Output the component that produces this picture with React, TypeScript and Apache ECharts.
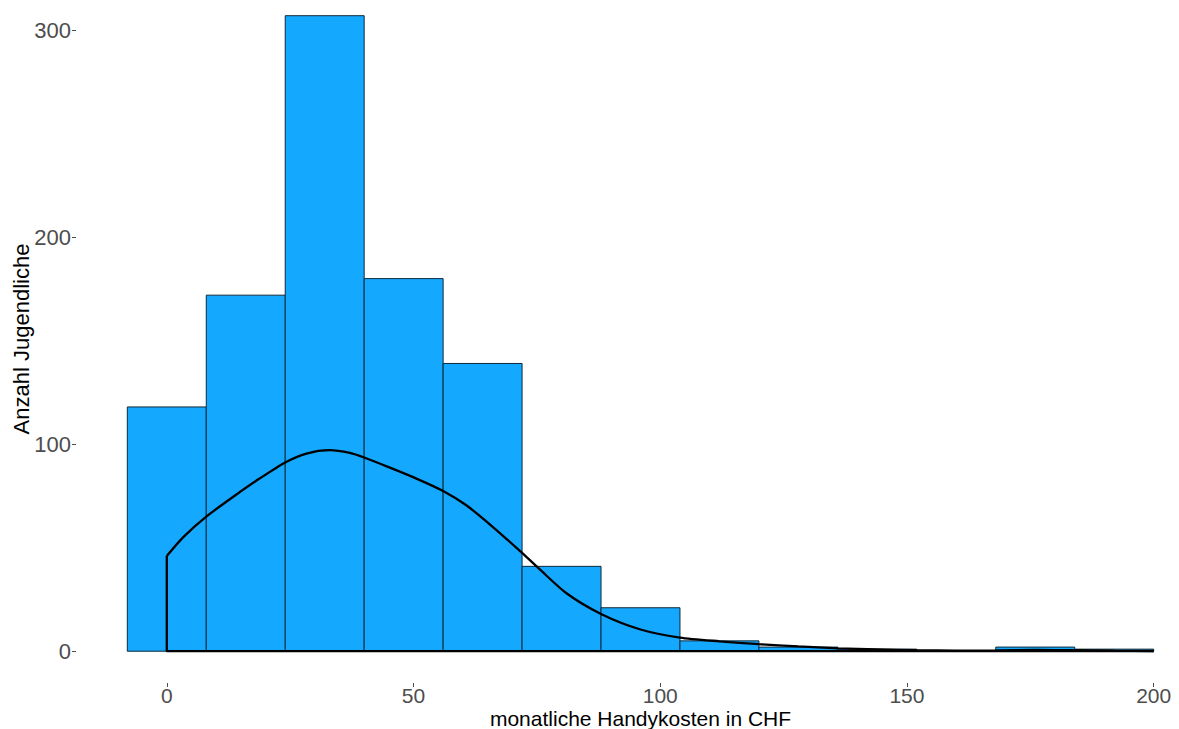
import React, { useEffect, useRef } from "react";
import * as echarts from "echarts";

// Histogram bins (left edge, right edge) and counts
const binStarts = [-8, 8, 24, 40, 56, 72, 88, 104, 120, 136, 152, 168, 184];
const binWidth = 16;
const counts = [118, 172, 307, 180, 139, 41, 21, 5, 2, 1, 0, 2, 1];

// Density curve (scaled to counts)
const densX = [0, 3.3, 8, 13.4, 18.8, 24, 28.3, 33, 37.1, 40, 45.2, 50.6, 56, 60.7, 66.1, 72, 75.6, 81, 88, 96, 104, 112, 120, 128, 136, 144, 152, 160, 168, 176, 184, 192, 200];
const densY = [46, 55, 65, 74.5, 83.4, 91.2, 95.5, 97.1, 95.8, 93.6, 88.7, 83.4, 77.4, 70.5, 60, 47.5, 39.5, 28, 18, 10.5, 6.6, 4.8, 3.4, 2.3, 1.4, 0.9, 0.5, 0.3, 0.4, 0.6, 0.5, 0.3, 0.1];

const xTicks = [0, 50, 100, 150, 200];
const yTicks = [0, 100, 200, 300];

const xTitle = "monatliche Handykosten in CHF";
const yTitle = "Anzahl Jugendliche";

export default function App() {
  const ref = useRef<HTMLDivElement>(null);
  useEffect(() => {
    if (!ref.current) return;
    const chart = echarts.init(ref.current, undefined, { renderer: "svg" });
    const histData = binStarts.map((s, i) => [s, s + binWidth, counts[i]]);
    const curve = densX.map((x, i) => [x, densY[i]]);
    const outline = [
      [densX[0], densY[0]],
      [densX[0], 0],
      [densX[densX.length - 1], 0],
      [densX[densX.length - 1], densY[densY.length - 1]],
    ];
    const font = "'Liberation Sans', Arial, Helvetica, sans-serif";
    chart.setOption({
      animation: false,
      backgroundColor: "#ffffff",
      grid: { left: 76, right: -26, top: -5, bottom: 46, containLabel: false, outerBoundsMode: "none" },
      xAxis: {
        type: "value",
        min: -18.4,
        max: 210.4,
        name: xTitle,
        nameLocation: "middle",
        nameGap: 24,
        nameMoveOverlap: false,
        nameTextStyle: { color: "#000", fontSize: 21, lineHeight: 22, fontFamily: font },
        axisLine: { show: false, onZero: false },
        splitLine: { show: false },
        axisTick: { show: true, length: 4, customValues: xTicks, lineStyle: { color: "#4d4d4d", width: 1 } },
        axisLabel: { customValues: xTicks, color: "#4d4d4d", fontSize: 21, lineHeight: 20, fontFamily: font, margin: 2 },
      },
      yAxis: {
        type: "value",
        min: -15.35,
        max: 317,
        name: yTitle,
        nameLocation: "middle",
        nameGap: 44,
        nameRotate: 90,
        nameMoveOverlap: false,
        nameTextStyle: { color: "#000", fontSize: 22, fontFamily: font },
        axisLine: { show: false, onZero: false },
        splitLine: { show: false },
        axisTick: { show: true, length: 4, customValues: yTicks, lineStyle: { color: "#4d4d4d", width: 1 } },
        axisLabel: { customValues: yTicks, color: "#4d4d4d", fontSize: 22, fontFamily: font, margin: 5 },
      },
      series: [
        {
          type: "custom",
          name: "hist",
          data: histData,
          encode: { x: [0, 1], y: 2 },
          renderItem: (params: any, api: any) => {
            const x0 = api.value(0);
            const x1 = api.value(1);
            const c = api.value(2);
            if (c <= 0) return null;
            const p0 = api.coord([x0, c]);
            const p1 = api.coord([x1, 0]);
            return {
              type: "rect",
              shape: { x: p0[0], y: p0[1], width: p1[0] - p0[0], height: p1[1] - p0[1] },
              style: { fill: "#14A9FF", stroke: "#0d2a3a", lineWidth: 1 },
            };
          },
          z: 1,
        },
        {
          type: "line",
          name: "density",
          data: curve,
          smooth: 0.25,
          showSymbol: false,
          symbol: "none",
          lineStyle: { color: "#000", width: 2.3 },
          z: 3,
        },
        {
          type: "line",
          name: "outline",
          data: outline,
          showSymbol: false,
          symbol: "none",
          lineStyle: { color: "#000", width: 2.3 },
          z: 3,
        },
      ],
    });
    return () => chart.dispose();
  }, []);
  return (
    <div
      ref={ref}
      style={{ position: "fixed", left: 0, top: 0, width: 1179, height: 729, background: "#fff" }}
    />
  );
}
